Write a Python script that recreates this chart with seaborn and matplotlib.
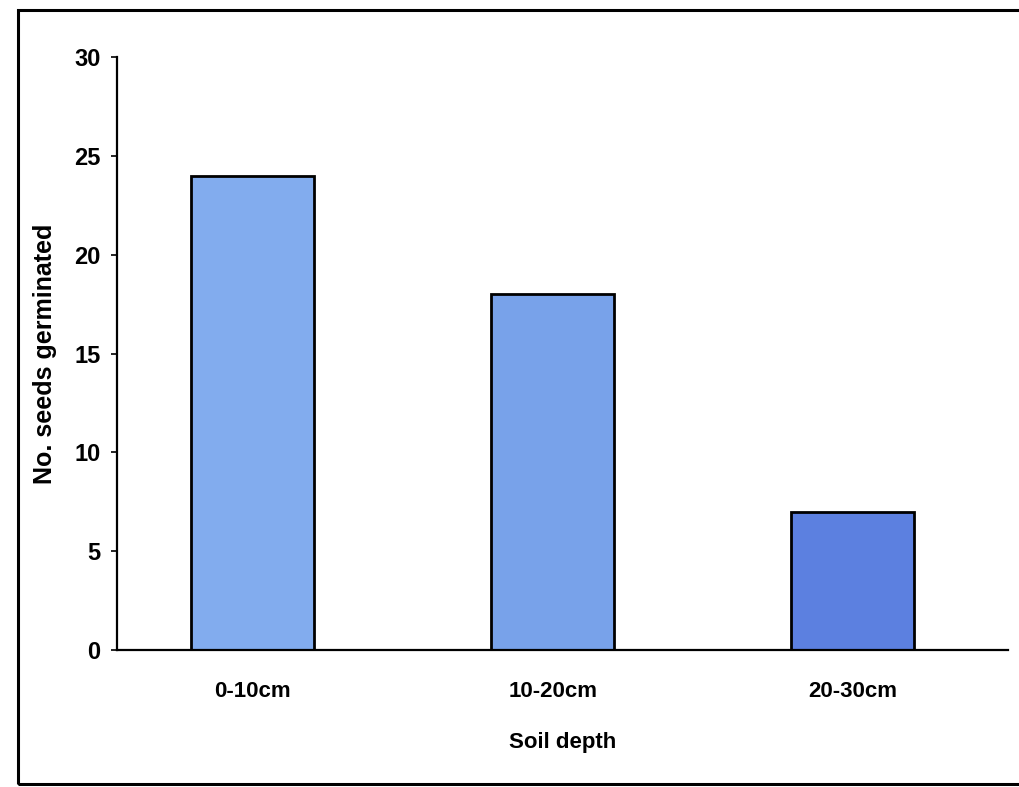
import numpy as np
import matplotlib
matplotlib.use("Agg")
import matplotlib.pyplot as plt
import seaborn as sns
import pandas as pd
from matplotlib.patches import Rectangle

depths = ["0-10cm", "10-20cm", "20-30cm"]
seeds = [24, 18, 7]
bar_colors = ["#82acee", "#78a2ea", "#5c80e0"]
y_ticks = [0, 5, 10, 15, 20, 25, 30]

df = pd.DataFrame({"depth": depths, "seeds": seeds})

sns.set_style("white")
plt.rcParams['font.family'] = ['Liberation Sans', 'DejaVu Sans']
plt.rcParams['text.color'] = 'black'
plt.rcParams['axes.labelcolor'] = 'black'
plt.rcParams['xtick.color'] = 'black'
plt.rcParams['ytick.color'] = 'black'

fig = plt.figure(figsize=(10.2, 7.87), dpi=100)
ax = fig.add_axes([0.1147, 0.174, 0.8735, 0.7536])

sns.barplot(data=df, x="depth", y="seeds", hue="depth", palette=bar_colors,
            legend=False, width=0.41, edgecolor="black", linewidth=2,
            saturation=1, ax=ax)

ax.set_xlim(-0.453, 2.517)
ax.set_ylim(0, 30)
ax.set_yticks(y_ticks)
ax.set_yticklabels([str(t) for t in y_ticks], fontsize=17, fontweight="bold")
ax.set_xticks(range(len(depths)))
ax.set_xticklabels(depths, fontsize=16, fontweight="bold")
ax.set_xticks([0.5, 1.5], minor=True)
ax.tick_params(axis="x", which="major", length=0, pad=22)
ax.tick_params(axis="x", which="minor", length=5, width=1.2, direction="out")
ax.tick_params(axis="y", which="major", length=4, width=1.2, direction="out", left=True, pad=8)

for s in ["top", "right"]:
    ax.spines[s].set_visible(False)
for s in ["left", "bottom"]:
    ax.spines[s].set_color("black")
    ax.spines[s].set_linewidth(1.6)

ax.set_xlabel("Soil depth", fontsize=16, fontweight="bold", labelpad=22)
ax.set_ylabel("No. seeds germinated", fontsize=18, fontweight="bold", labelpad=12)

fig.patches.append(Rectangle((0.0176, 0.004), 1.0, 0.983, transform=fig.transFigure,
                             fill=False, edgecolor="black", linewidth=2.2, zorder=10))

fig.savefig("out.png", dpi=100, facecolor="white")
